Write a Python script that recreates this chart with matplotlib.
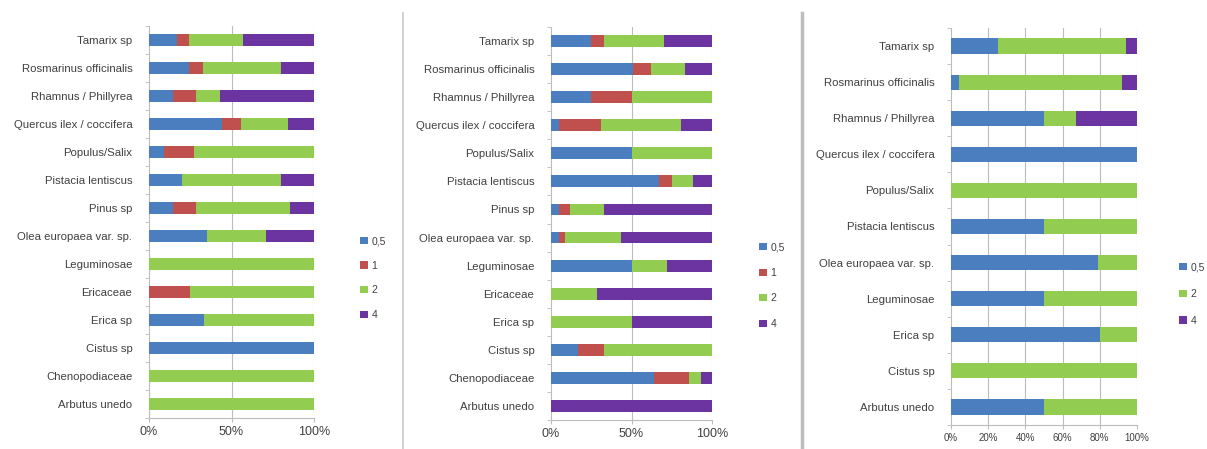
import numpy as np
import matplotlib
matplotlib.use('Agg')
import matplotlib.pyplot as plt
from matplotlib.patches import Patch
from matplotlib.lines import Line2D
from matplotlib.ticker import FixedLocator

plt.rcParams['font.family'] = ['Liberation Sans', 'DejaVu Sans']

# species, top to bottom
taxa = ['Tamarix sp', 'Rosmarinus officinalis', 'Rhamnus / Phillyrea',
        'Quercus ilex / coccifera', 'Populus/Salix', 'Pistacia lentiscus',
        'Pinus sp', 'Olea europaea var. sp.', 'Leguminosae', 'Ericaceae',
        'Erica sp', 'Cistus sp', 'Chenopodiaceae', 'Arbutus unedo']
taxa_c = ['Tamarix sp', 'Rosmarinus officinalis', 'Rhamnus / Phillyrea',
          'Quercus ilex / coccifera', 'Populus/Salix', 'Pistacia lentiscus',
          'Olea europaea var. sp.', 'Leguminosae', 'Erica sp', 'Cistus sp',
          'Arbutus unedo']

# percentages per size class
a_05 = [17, 24, 14.3, 44, 9, 20, 14.3, 35, 0, 0, 33.3, 100, 0, 0]
a_1 = [7, 9, 14.3, 12, 18, 0, 14.3, 0, 0, 25, 0, 0, 0, 0]
a_2 = [33, 47, 14.3, 28, 73, 60, 57.1, 36, 100, 75, 66.7, 0, 100, 100]
a_4 = [43, 20, 57.1, 16, 0, 20, 14.3, 29, 0, 0, 0, 0, 0, 0]

b_05 = [25, 51, 25, 5, 50, 67, 5, 5, 50, 0, 0, 17, 64, 0]
b_1 = [8, 11, 25, 26, 0, 8, 7, 3.5, 0, 0, 0, 16, 21.5, 0]
b_2 = [37, 21, 50, 50, 50, 13, 21, 35, 22, 28.6, 50, 67, 7.5, 0]
b_4 = [30, 17, 0, 19, 0, 12, 67, 56.5, 28, 71.4, 50, 0, 7, 100]

c_05 = [25, 4.5, 50, 100, 0, 50, 79, 50, 80, 0, 50]
c_2 = [69, 87.5, 17, 0, 100, 50, 21, 50, 20, 100, 50]
c_4 = [6, 8, 33, 0, 0, 0, 0, 0, 0, 0, 0]

colors = {'0,5': '#4A7EBF', '1': '#C0504D', '2': '#92CC50', '4': '#6B34A0'}
txt = '#404040'
grid = '#bcbcbc'

W, H = 1207, 449
fig = plt.figure(figsize=(W / 100, H / 100), dpi=100)


def box(x0, x1, y0, y1):
    return [x0 / W, 1 - y1 / H, (x1 - x0) / W, (y1 - y0) / H]


def panel(rect, names, series, xt, xfs, leg_xy, leg_sp):
    ax = fig.add_axes(rect)
    y = np.arange(len(names))
    left = np.zeros(len(names))
    handles = []
    for lab, vals in series:
        vals = np.array(vals, dtype=float)
        ax.barh(y, vals, left=left, height=0.42, color=colors[lab], zorder=3)
        left += vals
        handles.append(Patch(facecolor=colors[lab], label=lab))
    ax.set_xlim(0, 100)
    ax.set_ylim(len(names) - 0.5, -0.5)
    ax.set_yticks(y)
    ax.set_yticklabels(names, fontsize=8.2, color=txt)
    ax.yaxis.set_minor_locator(FixedLocator(np.arange(len(names) + 1) - 0.5))
    ax.tick_params(axis='y', which='major', length=0, pad=12)
    ax.tick_params(axis='y', which='minor', length=3, color=grid, direction='out')
    ax.set_xticks(xt)
    ax.set_xticklabels(['%d%%' % v for v in xt], fontsize=xfs, color=txt)
    ax.tick_params(axis='x', length=3, color=grid, pad=3)
    for v in xt[1:]:
        ax.axvline(v, color=grid, lw=0.8, zorder=1)
    for s in ['top', 'right']:
        ax.spines[s].set_visible(False)
    for s in ['left', 'bottom']:
        ax.spines[s].set_color(grid)
        ax.spines[s].set_linewidth(0.8)
    fig.legend(handles=handles, loc='upper left',
               bbox_to_anchor=(leg_xy[0] / W, 1 - leg_xy[1] / H),
               frameon=False, fontsize=7.5, labelcolor=txt,
               handlelength=0.7, handleheight=0.7, handletextpad=0.4,
               labelspacing=leg_sp, borderpad=0)
    return ax


panel(box(149, 314, 26, 418), taxa,
      [('0,5', a_05), ('1', a_1), ('2', a_2), ('4', a_4)],
      [0, 50, 100], 9, (355, 231), 1.4)
panel(box(551, 712, 27, 420), taxa,
      [('0,5', b_05), ('1', b_1), ('2', b_2), ('4', b_4)],
      [0, 50, 100], 9, (754, 237), 1.5)
panel(box(951, 1137, 28, 425), taxa_c,
      [('0,5', c_05), ('2', c_2), ('4', c_4)],
      [0, 20, 40, 60, 80, 100], 7, (1174, 257), 1.6)

# panel dividers
fig.add_artist(Line2D([403 / W, 403 / W], [0, 1 - 13 / H], color='#c8c8c8', lw=1.2))
fig.add_artist(Line2D([802 / W, 802 / W], [0, 1 - 13 / H], color='#bdbdbd', lw=2.5))

fig.savefig('out.png', dpi=100, facecolor='white')
